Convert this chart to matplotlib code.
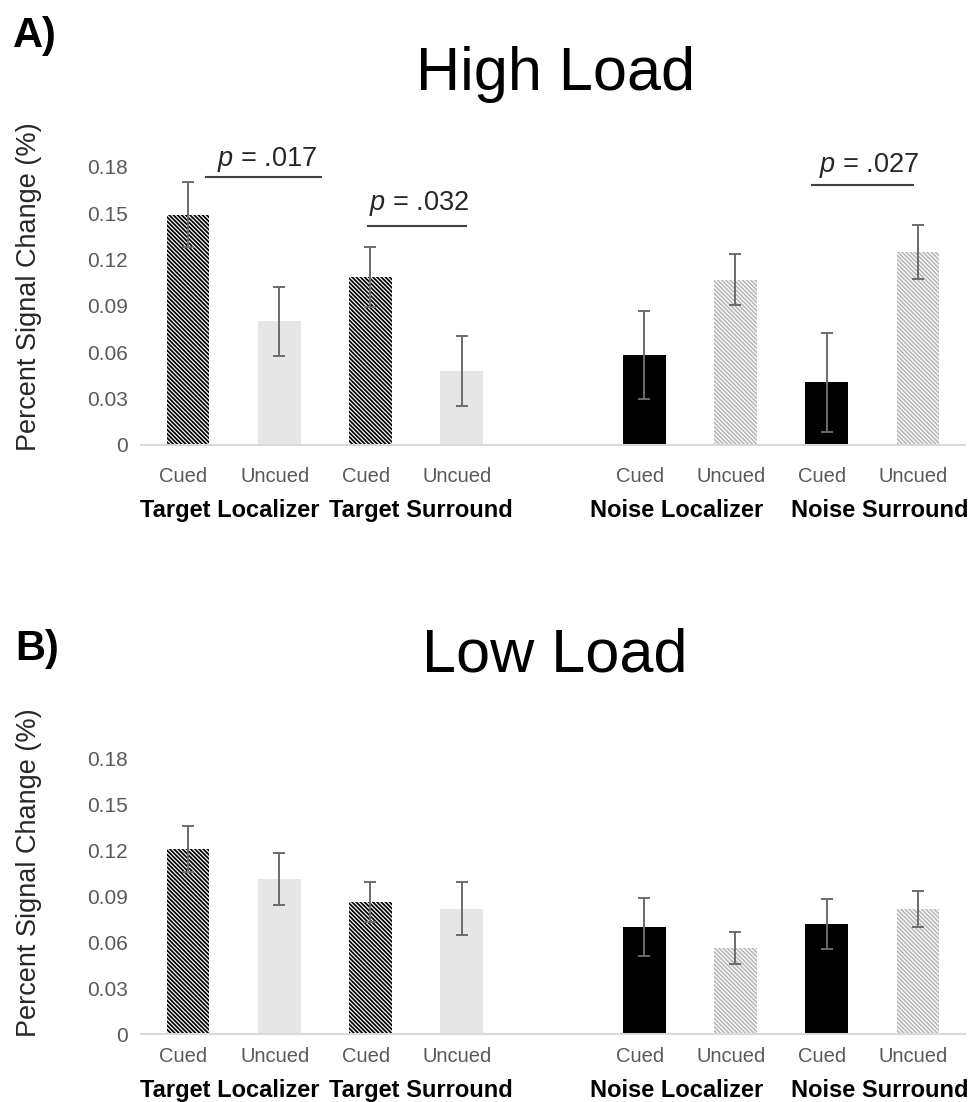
import matplotlib
matplotlib.use('Agg')
import matplotlib.pyplot as plt
from matplotlib import font_manager
import numpy as np

plt.rcParams['font.family'] = ['Liberation Sans', 'DejaVu Sans']
plt.rcParams['mathtext.fontset'] = 'custom'
plt.rcParams['mathtext.rm'] = 'Liberation Sans'
plt.rcParams['mathtext.it'] = 'Liberation Sans:italic'
plt.rcParams['hatch.linewidth'] = 1.25

# the panel titles look like a narrow face; use it when it is there
try:
    font_manager.findfont('Liberation Sans Narrow', fallback_to_default=False)
    title_font = dict(family=['Liberation Sans Narrow', 'Liberation Sans'], size=50)
except ValueError:
    title_font = dict(family=['Liberation Sans'], size=44)

# data
regions = ['Target Localizer', 'Target Surround', 'Noise Localizer', 'Noise Surround']
conditions = ['Cued', 'Uncued', 'Cued', 'Uncued', 'Cued', 'Uncued', 'Cued', 'Uncued']
positions = [0, 1, 2, 3, 5, 6, 7, 8]

high_mean = [0.149, 0.080, 0.109, 0.048, 0.0585, 0.107, 0.0405, 0.125]
high_err = [0.021, 0.0225, 0.0195, 0.0225, 0.0285, 0.0165, 0.032, 0.0177]
low_mean = [0.121, 0.101, 0.0865, 0.082, 0.070, 0.056, 0.072, 0.0815]
low_err = [0.015, 0.017, 0.013, 0.0175, 0.019, 0.0105, 0.0162, 0.0118]

yticks = [0, 0.03, 0.06, 0.09, 0.12, 0.15, 0.18]
ytick_labels = ['0', '0.03', '0.06', '0.09', '0.12', '0.15', '0.18']

# significance brackets in the high load panel
sig_text = ['.017', '.032', '.027']
sig_x0 = [0.2, 1.97, 6.84]
sig_x1 = [1.46, 3.05, 7.95]
sig_line_y = [0.1735, 0.1417, 0.1683]
sig_text_x = [0.87, 2.53, 7.46]
sig_text_y = [0.1805, 0.152, 0.177]

# bar styles: target cued, target uncued, noise cued, noise uncued
styles = [
    dict(color='white', edgecolor='black', hatch='\\' * 8),
    dict(color='#e7e6e6', edgecolor='#e7e6e6', hatch=None),
    dict(color='black', edgecolor='black', hatch=None),
    dict(color='white', edgecolor='#b9b9b9', hatch='\\' * 8),
]
style_idx = [0, 1, 0, 1, 2, 3, 2, 3]

label_nudge = [-0.04, 0.05, -0.14, 0.08]

fig = plt.figure(figsize=(9.71, 11.02), dpi=100)
ax1 = fig.add_axes([0.1452, 0.5962, 0.8486, 0.2523])
ax2 = fig.add_axes([0.1452, 0.0617, 0.8486, 0.2500])


def draw_panel(ax, means, errs, cond_y, group_y):
    for p, m, e, s in zip(positions, means, errs, style_idx):
        st = styles[s]
        ax.bar(p, m, width=0.47, color=st['color'], edgecolor=st['edgecolor'],
               hatch=st['hatch'], linewidth=0, zorder=2)
        ax.errorbar(p, m, yerr=e, fmt='none', ecolor='#6b6b6b', elinewidth=1.4,
                    capsize=4.3, capthick=1.4, zorder=3)
    ax.set_xlim(-0.515, 8.515)
    ax.set_ylim(0, 0.18)
    ax.set_yticks(yticks)
    ax.set_yticklabels(ytick_labels)
    ax.tick_params(axis='y', length=0, pad=9.5, labelsize=15, labelcolor='#595959')
    ax.set_xticks([])
    for sp in ['top', 'right', 'left']:
        ax.spines[sp].set_visible(False)
    ax.spines['bottom'].set_color('#d9d9d9')
    ax.spines['bottom'].set_linewidth(1.5)
    tr = ax.get_xaxis_transform()
    for p, c in zip(positions, conditions):
        ax.text(p - 0.05, cond_y, c, transform=tr, ha='center', va='center',
                fontsize=14.5, color='#595959')
    for i, r in enumerate(regions):
        gx = (positions[2 * i] + positions[2 * i + 1]) / 2 + label_nudge[i]
        ax.text(gx, group_y, r, transform=tr, ha='center', va='center',
                fontsize=17, fontweight='bold', color='black')


draw_panel(ax1, high_mean, high_err, -0.1133, -0.2374)
draw_panel(ax2, low_mean, low_err, -0.0817, -0.2033)

for t, x0, x1, ly, tx, ty in zip(sig_text, sig_x0, sig_x1, sig_line_y, sig_text_x, sig_text_y):
    ax1.plot([x0, x1], [ly, ly], color='#404040', lw=1.5, clip_on=False, zorder=4)
    ax1.text(tx, ty, r'$p$ = ' + t, ha='center', va='baseline', fontsize=19.5,
             color='#262626', clip_on=False)

fig.text(556 / 971, 1 - 90 / 1102, 'High Load', ha='center', va='baseline', **title_font)
fig.text(555 / 971, 1 - 672 / 1102, 'Low Load', ha='center', va='baseline', **title_font)
fig.text(13 / 971, 1 - 47 / 1102, 'A)', ha='left', va='baseline', fontsize=30, fontweight='bold')
fig.text(15 / 971, 1 - 660 / 1102, 'B)', ha='left', va='baseline', fontsize=30, fontweight='bold')

fig.text(29.5 / 971, 1 - 287 / 1102, 'Percent Signal Change (%)', rotation=90, ha='center',
         va='center', fontsize=19.5, color='#262626')
fig.text(29.5 / 971, 1 - 873 / 1102, 'Percent Signal Change (%)', rotation=90, ha='center',
         va='center', fontsize=19.5, color='#262626')

fig.savefig('out.png', dpi=100)
